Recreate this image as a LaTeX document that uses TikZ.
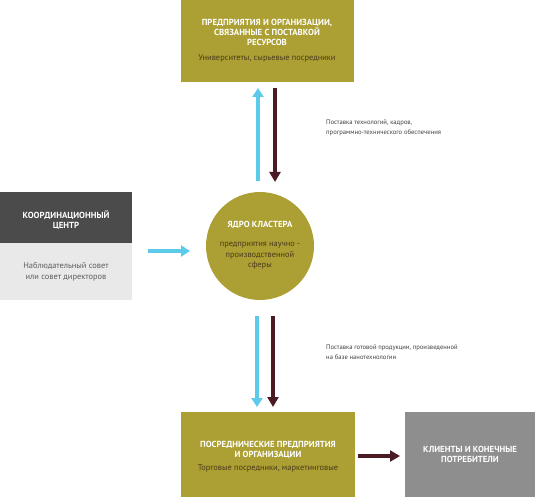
\documentclass[tikz,border=0pt]{standalone}
\usepackage{fontspec}
\setmainfont{PT Sans}
\usetikzlibrary{arrows.meta,positioning}
\definecolor{olive}{HTML}{ACA034}
\definecolor{darkbox}{HTML}{4B4B4B}
\definecolor{lightbox}{HTML}{E9E9E9}
\definecolor{greybox}{HTML}{8E8E8E}
\definecolor{cyanarr}{HTML}{5CCBEA}
\definecolor{maroon}{HTML}{4A1B22}
\definecolor{subtxt}{HTML}{4A3A1A}
\tikzset{
  box/.style={draw=none,inner sep=0pt,anchor=north west},
  ttl/.style={text=white,font=\fontsize{8.8}{10}\selectfont\bfseries,align=center,inner sep=0pt},
  sub/.style={text=subtxt,font=\fontsize{8.4}{10.5}\selectfont,align=center,inner sep=0pt},
  subg/.style={text=darkbox!90,font=\fontsize{8.4}{10.5}\selectfont,align=center,inner sep=0pt},
  lbl/.style={text=black!75,font=\fontsize{6.6}{10}\selectfont,align=left,inner sep=0pt,anchor=west},
  cyarrow/.style={cyanarr,line width=4pt,-{Triangle[width=11pt,length=9pt]}},
  mrarrow/.style={maroon,line width=4.5pt,-{Triangle[width=11pt,length=10pt]}},
}
\begin{document}
\begin{tikzpicture}[x=1pt,y=-1pt]
\useasboundingbox (0,0) rectangle (535,497);
% top box
\node[box,fill=olive,minimum width=173pt,minimum height=82pt] (top) at (181,0) {};
\node[ttl] (toptitle) at (267,32) {ПРЕДПРИЯТИЯ И ОРГАНИЗАЦИИ,\\СВЯЗАННЫЕ С ПОСТАВКОЙ\\РЕСУРСОВ};
\node[sub] (topsub) at (267,58) {Университеты, сырьевые посредники};
% core circle
\node[circle,fill=olive,minimum size=108pt,inner sep=0pt] (core) at (260,246) {};
\node[ttl] (coretitle) at (260,225) {ЯДРО КЛАСТЕРА};
\node[sub] (coresub) at (260,256) {предприятия научно -\\производственной\\сферы};
% left box
\node[box,fill=darkbox,minimum width=132pt,minimum height=51pt] (coord) at (0,192) {};
\node[box,fill=lightbox,minimum width=132pt,minimum height=57pt] (council) at (0,243) {};
\node[ttl] (coordtitle) at (66,220) {КООРДИНАЦИОННЫЙ\\ЦЕНТР};
\node[subg] (councilsub) at (66,272) {Наблюдательный совет\\или совет директоров};
% bottom box
\node[box,fill=olive,minimum width=174pt,minimum height=85pt] (bottom) at (181,412) {};
\node[ttl] (bottomtitle) at (268,450) {ПОСРЕДНИЧЕСКИЕ ПРЕДПРИЯТИЯ\\И ОРГАНИЗАЦИИ};
\node[sub] (bottomsub) at (268,468) {Торговые посредники, маркетинговые};
% right box
\node[box,fill=greybox,minimum width=130pt,minimum height=85pt] (clients) at (405,412) {};
\node[ttl] (clientstitle) at (470,454) {КЛИЕНТЫ И КОНЕЧНЫЕ\\ПОТРЕБИТЕЛИ};
% arrow anchors
\coordinate (a1s) at (258,181); \coordinate (a1e) at (258,88);
\coordinate (a2s) at (275,88);  \coordinate (a2e) at (275,182);
\coordinate (a3s) at (257,316); \coordinate (a3e) at (257,407);
\coordinate (a4s) at (273,316); \coordinate (a4e) at (273,407);
\coordinate (a5s) at (148,251); \coordinate (a5e) at (190,251);
\coordinate (a6s) at (358,456); \coordinate (a6e) at (400,456);
\draw[cyarrow] (a1s) -- (a1e);
\draw[mrarrow] (a2s) -- (a2e);
\draw[cyarrow] (a3s) -- (a3e);
\draw[mrarrow] (a4s) -- (a4e);
\draw[cyarrow] (a5s) -- (a5e);
\draw[mrarrow] (a6s) -- (a6e);
% labels
\node[lbl] (toplabel) at (326,128) {Поставка технологий, кадров,\\программно-технического обеспечения};
\node[lbl] (botlabel) at (326,352) {Поставка готовой продукции, произведенной\\на базе нанотехнологии};
\end{tikzpicture}
\end{document}
